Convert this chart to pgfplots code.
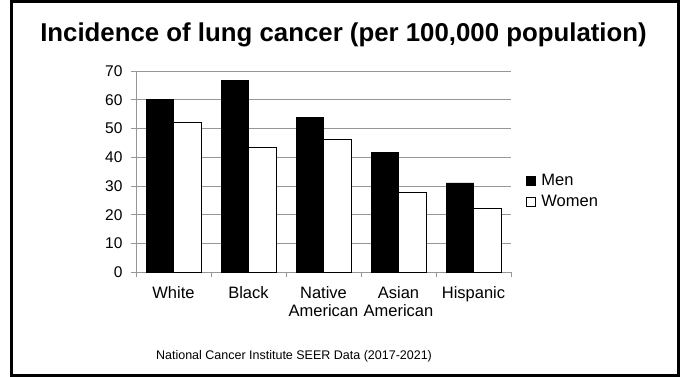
\documentclass[border=0pt]{standalone}
\usepackage{fontspec}
\setmainfont{Liberation Sans}
\usepackage{pgfplots}
\pgfplotsset{compat=1.18}
\definecolor{gridgray}{RGB}{150,150,150}

\pgfplotsset{
  sqleg/.style={legend image code/.code={%
    \draw[##1,/tikz/.cd,draw=black,line width=0.7pt] (0pt,-4.5pt) rectangle (9pt,4.5pt);
    \path (12.5pt,0pt);}},
}

\begin{document}
\begin{tikzpicture}[x=1pt,y=1pt]
\useasboundingbox (0,0) rectangle (685,377);
% outer frame
\draw[line width=2.6pt] (11.3,1.3) rectangle (678.6,375.5);
% title and source note
\node[anchor=base, font=\bfseries\fontsize{25.8}{30}\selectfont] at (343.5,335.3)
  {Incidence of lung cancer (per 100,000 population)};
\node[anchor=base, font=\fontsize{12.5}{14}\selectfont] at (294,17)
  {National Cancer Institute SEER Data (2017-2021)};

\begin{axis}[
  at={(136pt,104.7pt)}, anchor=south west,
  scale only axis, width=375pt, height=201.3pt,
  ybar=0pt, bar width=27.5pt,
  xmin=-0.5, xmax=4.5, ymin=0, ymax=70,
  ytick={0,10,...,70},
  ymajorgrids, grid style={gridgray, line width=0.8pt},
  axis lines*=left, axis line style={gridgray, line width=0.8pt},
  tick align=outside, major tick length=5pt,
  tick style={gridgray, line width=0.8pt},
  /pgf/number format/assume math mode=true,
  yticklabel style={font=\fontsize{15.5}{18}\selectfont, xshift=-5pt},
  xtick={-0.5,0.5,...,4.5}, xticklabels={},
  extra x ticks={0,1,2,3,4},
  extra x tick labels={White,Black,{Native\\American},{Asian\\American},Hispanic},
  extra x tick style={
    tick style={draw=none},
    tick label style={align=center, font=\fontsize{16.5}{17.5}\selectfont, anchor=north, yshift=-6pt},
  },
  legend style={draw=none, fill=none, at={(axis description cs:1,0.404)}, anchor=west,
    font=\fontsize{16.5}{19}\selectfont, row sep=4pt, xshift=12pt},
  legend cell align=left,
]
\addplot[fill=black, draw=black, line width=0.7pt, sqleg]
  coordinates {(0,60.2) (1,66.7) (2,54.0) (3,41.6) (4,31.1)};
\addplot[fill=white, draw=black, line width=0.7pt, sqleg]
  coordinates {(0,52.3) (1,43.3) (2,46.1) (3,27.8) (4,22.4)};
\legend{Men,Women}
\end{axis}
\end{tikzpicture}
\end{document}
